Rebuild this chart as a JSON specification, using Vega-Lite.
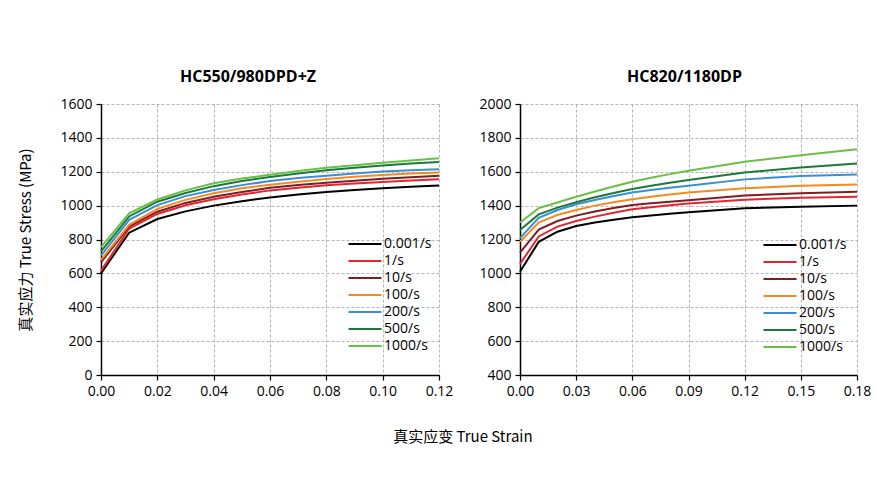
{
  "$schema": "https://vega.github.io/schema/vega-lite/v6.json",
  "padding": {"left": 18, "top": 69, "right": 10, "bottom": 10},
  "title": {"text": "真实应变 True Strain", "orient": "bottom", "anchor": "middle", "font": "Noto Sans CJK SC", "fontSize": 15, "fontWeight": "normal", "color": "#000", "offset": 32, "dx": 18},
  "datasets": {
    "left": [
      {"rate": "0.001/s", "strain": 0, "stress": 600}, {"rate": "1/s", "strain": 0, "stress": 615}, {"rate": "10/s", "strain": 0, "stress": 665}, {"rate": "100/s", "strain": 0, "stress": 680}, {"rate": "200/s", "strain": 0, "stress": 705}, {"rate": "500/s", "strain": 0, "stress": 730}, {"rate": "1000/s", "strain": 0, "stress": 755},
      {"rate": "0.001/s", "strain": 0.01, "stress": 840}, {"rate": "1/s", "strain": 0.01, "stress": 865}, {"rate": "10/s", "strain": 0.01, "stress": 878}, {"rate": "100/s", "strain": 0.01, "stress": 887}, {"rate": "200/s", "strain": 0.01, "stress": 916}, {"rate": "500/s", "strain": 0.01, "stress": 936}, {"rate": "1000/s", "strain": 0.01, "stress": 954},
      {"rate": "0.001/s", "strain": 0.02, "stress": 921}, {"rate": "1/s", "strain": 0.02, "stress": 951}, {"rate": "10/s", "strain": 0.02, "stress": 964}, {"rate": "100/s", "strain": 0.02, "stress": 981}, {"rate": "200/s", "strain": 0.02, "stress": 1003}, {"rate": "500/s", "strain": 0.02, "stress": 1023}, {"rate": "1000/s", "strain": 0.02, "stress": 1036},
      {"rate": "0.001/s", "strain": 0.03, "stress": 966}, {"rate": "1/s", "strain": 0.03, "stress": 1002}, {"rate": "10/s", "strain": 0.03, "stress": 1016}, {"rate": "100/s", "strain": 0.03, "stress": 1034}, {"rate": "200/s", "strain": 0.03, "stress": 1056}, {"rate": "500/s", "strain": 0.03, "stress": 1075}, {"rate": "1000/s", "strain": 0.03, "stress": 1090},
      {"rate": "0.001/s", "strain": 0.04, "stress": 1000}, {"rate": "1/s", "strain": 0.04, "stress": 1038}, {"rate": "10/s", "strain": 0.04, "stress": 1052}, {"rate": "100/s", "strain": 0.04, "stress": 1073}, {"rate": "200/s", "strain": 0.04, "stress": 1092}, {"rate": "500/s", "strain": 0.04, "stress": 1115}, {"rate": "1000/s", "strain": 0.04, "stress": 1132},
      {"rate": "0.001/s", "strain": 0.05, "stress": 1026}, {"rate": "1/s", "strain": 0.05, "stress": 1066}, {"rate": "10/s", "strain": 0.05, "stress": 1080}, {"rate": "100/s", "strain": 0.05, "stress": 1102}, {"rate": "200/s", "strain": 0.05, "stress": 1121}, {"rate": "500/s", "strain": 0.05, "stress": 1145}, {"rate": "1000/s", "strain": 0.05, "stress": 1160},
      {"rate": "0.001/s", "strain": 0.06, "stress": 1048}, {"rate": "1/s", "strain": 0.06, "stress": 1090}, {"rate": "10/s", "strain": 0.06, "stress": 1105}, {"rate": "100/s", "strain": 0.06, "stress": 1123}, {"rate": "200/s", "strain": 0.06, "stress": 1145}, {"rate": "500/s", "strain": 0.06, "stress": 1169}, {"rate": "1000/s", "strain": 0.06, "stress": 1182},
      {"rate": "0.001/s", "strain": 0.07, "stress": 1066}, {"rate": "1/s", "strain": 0.07, "stress": 1105}, {"rate": "10/s", "strain": 0.07, "stress": 1122}, {"rate": "100/s", "strain": 0.07, "stress": 1141}, {"rate": "200/s", "strain": 0.07, "stress": 1163}, {"rate": "500/s", "strain": 0.07, "stress": 1190}, {"rate": "1000/s", "strain": 0.07, "stress": 1204},
      {"rate": "0.001/s", "strain": 0.08, "stress": 1080}, {"rate": "1/s", "strain": 0.08, "stress": 1120}, {"rate": "10/s", "strain": 0.08, "stress": 1135}, {"rate": "100/s", "strain": 0.08, "stress": 1157}, {"rate": "200/s", "strain": 0.08, "stress": 1177}, {"rate": "500/s", "strain": 0.08, "stress": 1209}, {"rate": "1000/s", "strain": 0.08, "stress": 1223},
      {"rate": "0.001/s", "strain": 0.09, "stress": 1092}, {"rate": "1/s", "strain": 0.09, "stress": 1131}, {"rate": "10/s", "strain": 0.09, "stress": 1147}, {"rate": "100/s", "strain": 0.09, "stress": 1170}, {"rate": "200/s", "strain": 0.09, "stress": 1190}, {"rate": "500/s", "strain": 0.09, "stress": 1224}, {"rate": "1000/s", "strain": 0.09, "stress": 1239},
      {"rate": "0.001/s", "strain": 0.10, "stress": 1102}, {"rate": "1/s", "strain": 0.10, "stress": 1140}, {"rate": "10/s", "strain": 0.10, "stress": 1158}, {"rate": "100/s", "strain": 0.10, "stress": 1181}, {"rate": "200/s", "strain": 0.10, "stress": 1201}, {"rate": "500/s", "strain": 0.10, "stress": 1237}, {"rate": "1000/s", "strain": 0.10, "stress": 1253},
      {"rate": "0.001/s", "strain": 0.11, "stress": 1111}, {"rate": "1/s", "strain": 0.11, "stress": 1149}, {"rate": "10/s", "strain": 0.11, "stress": 1168}, {"rate": "100/s", "strain": 0.11, "stress": 1189}, {"rate": "200/s", "strain": 0.11, "stress": 1209}, {"rate": "500/s", "strain": 0.11, "stress": 1248}, {"rate": "1000/s", "strain": 0.11, "stress": 1266},
      {"rate": "0.001/s", "strain": 0.12, "stress": 1119}, {"rate": "1/s", "strain": 0.12, "stress": 1155}, {"rate": "10/s", "strain": 0.12, "stress": 1177}, {"rate": "100/s", "strain": 0.12, "stress": 1196}, {"rate": "200/s", "strain": 0.12, "stress": 1215}, {"rate": "500/s", "strain": 0.12, "stress": 1258}, {"rate": "1000/s", "strain": 0.12, "stress": 1279}
    ],
    "right": [
      {"rate": "0.001/s", "strain": 0, "stress": 1010}, {"rate": "1/s", "strain": 0, "stress": 1055}, {"rate": "10/s", "strain": 0, "stress": 1122}, {"rate": "100/s", "strain": 0, "stress": 1187}, {"rate": "200/s", "strain": 0, "stress": 1208}, {"rate": "500/s", "strain": 0, "stress": 1256}, {"rate": "1000/s", "strain": 0, "stress": 1300},
      {"rate": "0.001/s", "strain": 0.01, "stress": 1186}, {"rate": "1/s", "strain": 0.01, "stress": 1218}, {"rate": "10/s", "strain": 0.01, "stress": 1258}, {"rate": "100/s", "strain": 0.01, "stress": 1300}, {"rate": "200/s", "strain": 0.01, "stress": 1328}, {"rate": "500/s", "strain": 0.01, "stress": 1348}, {"rate": "1000/s", "strain": 0.01, "stress": 1385},
      {"rate": "0.001/s", "strain": 0.02, "stress": 1246}, {"rate": "1/s", "strain": 0.02, "stress": 1276}, {"rate": "10/s", "strain": 0.02, "stress": 1309}, {"rate": "100/s", "strain": 0.02, "stress": 1345}, {"rate": "200/s", "strain": 0.02, "stress": 1374}, {"rate": "500/s", "strain": 0.02, "stress": 1388}, {"rate": "1000/s", "strain": 0.02, "stress": 1418},
      {"rate": "0.001/s", "strain": 0.03, "stress": 1280}, {"rate": "1/s", "strain": 0.03, "stress": 1309}, {"rate": "10/s", "strain": 0.03, "stress": 1341}, {"rate": "100/s", "strain": 0.03, "stress": 1374}, {"rate": "200/s", "strain": 0.03, "stress": 1408}, {"rate": "500/s", "strain": 0.03, "stress": 1420}, {"rate": "1000/s", "strain": 0.03, "stress": 1452},
      {"rate": "0.001/s", "strain": 0.04, "stress": 1301}, {"rate": "1/s", "strain": 0.04, "stress": 1335}, {"rate": "10/s", "strain": 0.04, "stress": 1365}, {"rate": "100/s", "strain": 0.04, "stress": 1400}, {"rate": "200/s", "strain": 0.04, "stress": 1433}, {"rate": "500/s", "strain": 0.04, "stress": 1449}, {"rate": "1000/s", "strain": 0.04, "stress": 1483},
      {"rate": "0.001/s", "strain": 0.05, "stress": 1317}, {"rate": "1/s", "strain": 0.05, "stress": 1358}, {"rate": "10/s", "strain": 0.05, "stress": 1386}, {"rate": "100/s", "strain": 0.05, "stress": 1420}, {"rate": "200/s", "strain": 0.05, "stress": 1457}, {"rate": "500/s", "strain": 0.05, "stress": 1475}, {"rate": "1000/s", "strain": 0.05, "stress": 1513},
      {"rate": "0.001/s", "strain": 0.06, "stress": 1331}, {"rate": "1/s", "strain": 0.06, "stress": 1378}, {"rate": "10/s", "strain": 0.06, "stress": 1404}, {"rate": "100/s", "strain": 0.06, "stress": 1437}, {"rate": "200/s", "strain": 0.06, "stress": 1478}, {"rate": "500/s", "strain": 0.06, "stress": 1498}, {"rate": "1000/s", "strain": 0.06, "stress": 1541},
      {"rate": "0.001/s", "strain": 0.07, "stress": 1342}, {"rate": "1/s", "strain": 0.07, "stress": 1390}, {"rate": "10/s", "strain": 0.07, "stress": 1414}, {"rate": "100/s", "strain": 0.07, "stress": 1452}, {"rate": "200/s", "strain": 0.07, "stress": 1492}, {"rate": "500/s", "strain": 0.07, "stress": 1517}, {"rate": "1000/s", "strain": 0.07, "stress": 1564},
      {"rate": "0.001/s", "strain": 0.08, "stress": 1352}, {"rate": "1/s", "strain": 0.08, "stress": 1402}, {"rate": "10/s", "strain": 0.08, "stress": 1423}, {"rate": "100/s", "strain": 0.08, "stress": 1466}, {"rate": "200/s", "strain": 0.08, "stress": 1506}, {"rate": "500/s", "strain": 0.08, "stress": 1535}, {"rate": "1000/s", "strain": 0.08, "stress": 1586},
      {"rate": "0.001/s", "strain": 0.09, "stress": 1361}, {"rate": "1/s", "strain": 0.09, "stress": 1412}, {"rate": "10/s", "strain": 0.09, "stress": 1432}, {"rate": "100/s", "strain": 0.09, "stress": 1478}, {"rate": "200/s", "strain": 0.09, "stress": 1518}, {"rate": "500/s", "strain": 0.09, "stress": 1551}, {"rate": "1000/s", "strain": 0.09, "stress": 1606},
      {"rate": "0.001/s", "strain": 0.12, "stress": 1384}, {"rate": "1/s", "strain": 0.12, "stress": 1435}, {"rate": "10/s", "strain": 0.12, "stress": 1460}, {"rate": "100/s", "strain": 0.12, "stress": 1502}, {"rate": "200/s", "strain": 0.12, "stress": 1555}, {"rate": "500/s", "strain": 0.12, "stress": 1596}, {"rate": "1000/s", "strain": 0.12, "stress": 1659},
      {"rate": "0.001/s", "strain": 0.15, "stress": 1394}, {"rate": "1/s", "strain": 0.15, "stress": 1447}, {"rate": "10/s", "strain": 0.15, "stress": 1473}, {"rate": "100/s", "strain": 0.15, "stress": 1518}, {"rate": "200/s", "strain": 0.15, "stress": 1575}, {"rate": "500/s", "strain": 0.15, "stress": 1625}, {"rate": "1000/s", "strain": 0.15, "stress": 1698},
      {"rate": "0.001/s", "strain": 0.18, "stress": 1400}, {"rate": "1/s", "strain": 0.18, "stress": 1453}, {"rate": "10/s", "strain": 0.18, "stress": 1482}, {"rate": "100/s", "strain": 0.18, "stress": 1525}, {"rate": "200/s", "strain": 0.18, "stress": 1584}, {"rate": "500/s", "strain": 0.18, "stress": 1649}, {"rate": "1000/s", "strain": 0.18, "stress": 1733}
    ]
  },
  "hconcat": [
    {
      "width": 338,
      "height": 271,
      "data": {"name": "left"},
      "title": {"text": "HC550/980DPD+Z", "dx": -22},
      "mark": {"type": "line", "strokeWidth": 2},
      "encoding": {
        "x": {"field": "strain", "type": "quantitative", "scale": {"domain": [0, 0.12], "nice": false}, "axis": {"title": null, "values": [0, 0.02, 0.04, 0.06, 0.08, 0.10, 0.12], "format": ".2f"}},
        "y": {"field": "stress", "type": "quantitative", "scale": {"domain": [0, 1600], "nice": false}, "axis": {"title": "真实应力 True Stress (MPa)", "titleColor": "black", "titleFontWeight": "normal", "values": [0, 200, 400, 600, 800, 1000, 1200, 1400, 1600], "format": "d"}},
        "color": {"field": "rate", "type": "nominal", "sort": null, "scale": {"domain": ["0.001/s", "1/s", "10/s", "100/s", "200/s", "500/s", "1000/s"], "range": ["#000000", "#e3262e", "#7f1d22", "#f58a1f", "#3a8fd4", "#1b7a3a", "#6abf45"]}, "legend": {"title": null, "orient": "none", "legendX": 257, "legendY": 133}},
        "order": {"field": "strain", "type": "quantitative"}
      }
    },
    {
      "width": 337,
      "height": 271,
      "data": {"name": "right"},
      "title": {"text": "HC820/1180DP", "dx": -4},
      "mark": {"type": "line", "strokeWidth": 2},
      "encoding": {
        "x": {"field": "strain", "type": "quantitative", "scale": {"domain": [0, 0.18], "nice": false}, "axis": {"title": null, "values": [0, 0.03, 0.06, 0.09, 0.12, 0.15, 0.18], "format": ".2f"}},
        "y": {"field": "stress", "type": "quantitative", "scale": {"domain": [400, 2000], "nice": false, "zero": false}, "axis": {"title": null, "values": [400, 600, 800, 1000, 1200, 1400, 1600, 1800, 2000], "format": "d"}},
        "color": {"field": "rate", "type": "nominal", "sort": null, "scale": {"domain": ["0.001/s", "1/s", "10/s", "100/s", "200/s", "500/s", "1000/s"], "range": ["#000000", "#e3262e", "#7f1d22", "#f58a1f", "#3a8fd4", "#1b7a3a", "#6abf45"]}, "legend": {"title": null, "orient": "none", "legendX": 253, "legendY": 134}},
        "order": {"field": "strain", "type": "quantitative"}
      }
    }
  ],
  "spacing": 25,
  "resolve": {"scale": {"x": "independent", "y": "independent", "color": "independent"}, "legend": {"color": "independent"}},
  "config": {
    "font": "Open Sans",
    "view": {"stroke": null},
    "title": {"font": "Open Sans", "fontSize": 16, "fontWeight": "bold", "color": "#000", "offset": 12, "anchor": "middle"},
    "axis": {
      "domainColor": "#000", "domainWidth": 1.5, "tickColor": "#000", "tickSize": 5, "tickWidth": 1.2,
      "labelFontSize": 14, "labelColor": "#000", "labelPadding": 4,
      "gridColor": "#b5b5b5", "gridDash": [3, 2], "gridWidth": 1,
      "titleFont": "Noto Sans CJK SC", "titleFontSize": 15, "titleFontWeight": "normal", "titleColor": "#000", "titlePadding": 26
    },
    "axisX": {"labelFlush": false},
    "legend": {
      "symbolType": "M-3,0H3", "symbolSize": 121, "symbolStrokeWidth": 2, "symbolOpacity": 1,
      "labelFontSize": 14, "labelColor": "#000", "labelOffset": 12, "rowPadding": 3, "padding": 0
    }
  }
}
